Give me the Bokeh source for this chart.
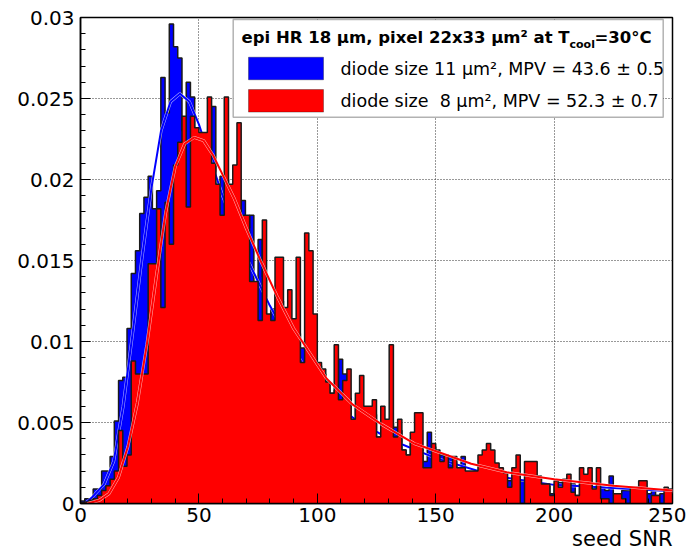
import numpy as np
from bokeh.plotting import figure
from bokeh.models import Range1d, FixedTicker, Label, BoxAnnotation, Title
from bokeh.embed import file_html
from bokeh.resources import INLINE

# ---------------- data ----------------
x_lo, x_hi = 0.0, 250.0
y_lo, y_hi = 0.0, 0.03
x_ticks = [0, 50, 100, 150, 200, 250]
x_tick_labels = ["0", "50", "100", "150", "200", "250"]
y_ticks = [0, 0.005, 0.01, 0.015, 0.02, 0.025, 0.03]
y_tick_labels = ["0", "0.005", "0.01", "0.015", "0.02", "0.025", "0.03"]
x_title = "seed SNR"
legend_title = ["epi HR 18 \u03bcm, pixel 22x33 \u03bcm\u00b2 at T", "cool", "=30\u00b0C"]
series_names = ["diode size 11 \u03bcm\u00b2, MPV = 43.6 \u00b1 0.5",
                "diode size \u00a08 \u03bcm\u00b2, MPV = 52.3 \u00b1 0.7"]
series_colors = ["#0000ff", "#ff0000"]

# bin contents, in units of 1e-3 (140 bins over 0..250)
blue_e3 = [0.15, 0.3, 0.3, 0.9, 0.9, 2.0, 2.0, 2.9, 5.1, 7.6,
           7.8, 10.8, 14.2, 15.6, 17.9, 18.9, 20.2, 18.2, 19.3, 26.3,
           24.1, 29.6, 28.2, 27.5, 23.0, 26.0, 25.1, 22.9, 22.5, 22.0,
           21.5, 24.5, 19.0, 20.2, 20.0, 19.0, 18.5, 18.0, 18.7, 17.0,
           17.8, 13.5, 16.3, 14.0, 11.5, 12.0, 13.0, 12.5, 11.5, 11.0,
           11.0, 10.5, 9.6, 9.5, 9.0, 9.0, 8.5, 8.0, 7.5, 6.8,
           7.0, 8.9, 8.0, 6.5, 5.2, 6.0, 6.0, 5.5, 5.5, 5.5,
           4.1, 5.0, 5.0, 5.0, 4.7, 4.5, 3.3, 3.0, 4.0, 4.0,
           3.5, 2.6, 4.4, 3.5, 3.0, 3.0, 2.8, 2.9, 2.5, 2.2,
           2.9, 1.4, 1.8, 2.0, 2.0, 2.0, 2.0, 2.0, 1.8, 1.6,
           1.5, 1.4, 1.5, 1.5, 1.4, 1.5, 1.5, 1.5, 1.6, 1.0,
           1.1, 0.6, 1.2, 1.3, 1.2, 1.2, 1.2, 0.5, 1.2, 1.2,
           1.2, 0.9, 1.0, 1.0, 0.8, 1.7, 0.6, 0.6, 0.8, 0.8,
           0.8, 0.8, 0.8, 0.8, 0.6, 0.8, 0.5, 0.6, 0.6, 0.6]
red_e3 = [0.05, 0.1, 0.2, 0.3, 0.5, 0.8, 1.1, 1.5, 2.0, 4.5,
          2.3, 3.0, 8.8, 8.0, 8.0, 8.0, 14.8, 14.8, 18.2, 12.1,
          18.6, 16.0, 20.9, 22.3, 23.9, 18.3, 23.9, 23.2, 22.9, 22.9,
          25.1, 21.0, 19.7, 17.8, 25.1, 19.7, 20.9, 23.5, 17.8, 17.8,
          13.7, 13.7, 11.3, 17.5, 11.7, 11.3, 15.2, 15.2, 12.1, 13.2,
          11.4, 15.2, 8.7, 16.7, 15.6, 11.7, 8.7, 8.3, 7.5, 6.8,
          9.8, 6.4, 7.6, 8.3, 5.2, 6.8, 7.9, 6.0, 6.0, 6.4,
          4.1, 6.0, 5.2, 9.8, 4.1, 5.2, 3.3, 3.0, 4.4, 5.6,
          5.6, 2.2, 2.2, 3.7, 3.3, 2.6, 3.0, 2.2, 2.9, 2.2,
          2.2, 2.0, 2.0, 2.0, 3.0, 3.3, 3.7, 3.3, 2.5, 2.2,
          1.9, 1.0, 2.2, 3.0, 0.0, 2.6, 2.6, 2.6, 1.7, 1.2,
          1.2, 0.5, 1.4, 1.0, 1.5, 1.8, 0.7, 0.5, 2.2, 1.8,
          2.2, 0.9, 2.2, 0.3, 0.3, 0.0, 0.6, 0.6, 0.3, 0.0,
          1.0, 1.0, 1.4, 1.4, 0.0, 0.5, 0.5, 0.0, 1.0, 0.9]

# fitted curves (x, y in units of 1e-3)
blue_fit_x = [2, 5, 10, 14, 18, 22, 26, 30, 34, 38, 42, 46, 50, 55, 60, 70, 80, 90,
              100, 115, 130, 150, 175, 200, 225, 250]
blue_fit_e3 = [0.0, 0.4, 1.2, 2.6, 6.0, 10.5, 15.2, 19.5, 23.0, 24.8, 25.3, 24.8, 23.4,
               21.2, 19.0, 15.2, 12.2, 9.6, 7.0, 5.3, 4.0, 2.8, 1.7, 1.15, 0.95, 0.75]
red_fit_x = [3, 8, 12, 16, 20, 24, 28, 32, 36, 40, 44, 48, 52, 56, 60, 65, 70, 76, 83,
             90, 104, 115, 127, 141, 165, 180, 200, 225, 250]
red_fit_e3 = [0.0, 0.2, 0.6, 1.6, 3.5, 6.2, 9.8, 14.0, 18.0, 20.8, 22.2, 22.6, 22.4, 21.5,
              20.3, 18.8, 17.0, 15.0, 12.8, 10.8, 7.7, 6.1, 4.9, 3.7, 2.45, 1.93, 1.5, 1.1, 0.8]

FONT = "DejaVu Sans"

# ---------------- figure ----------------
p = figure(width=686, height=553, x_range=Range1d(x_lo, x_hi), y_range=Range1d(y_lo, y_hi),
           output_backend="svg", toolbar_location=None,
           min_border_left=80, min_border_right=14, min_border_top=17, min_border_bottom=50)
p.background_fill_color = "white"
p.border_fill_color = "white"
p.outline_line_color = "black"
p.outline_line_width = 1.5

x_minor = [v for v in np.arange(x_lo, x_hi + 0.1, 10.0) if v not in x_ticks]
y_minor = [round(v, 4) for v in np.arange(0, y_hi + 1e-9, 0.001)]
p.xaxis.ticker = FixedTicker(ticks=x_ticks, minor_ticks=x_minor)
p.yaxis.ticker = FixedTicker(ticks=y_ticks, minor_ticks=y_minor)
p.xaxis.major_label_overrides = {t: s for t, s in zip(x_ticks, x_tick_labels)}
p.yaxis.major_label_overrides = {t: s for t, s in zip(y_ticks, y_tick_labels)}

for ax in (p.xaxis, p.yaxis):
    ax.axis_line_color = "black"
    ax.axis_line_width = 1.5
    ax.major_tick_in = 10
    ax.major_tick_out = 0
    ax.minor_tick_in = 5
    ax.minor_tick_out = 0
    ax.major_tick_line_color = "black"
    ax.minor_tick_line_color = "black"
    ax.major_label_text_font = FONT
    ax.major_label_text_font_size = "20px"
    ax.major_label_text_color = "black"
p.xaxis.major_label_standoff = 4
p.yaxis.major_label_standoff = 6

# x axis title, right aligned under the end of the axis
p.add_layout(Title(text=x_title, align="right", text_font=FONT, text_font_size="21px",
                   text_font_style="normal", text_color="black", standoff=0), "below")

for g in (p.xgrid, p.ygrid):
    g.grid_line_color = "#333333"
    g.grid_line_dash = "1 2"
    g.grid_line_width = 1

edges = np.linspace(x_lo, x_hi, len(blue_e3) + 1)


def draw_hist(vals_e3, color):
    vals = np.array(vals_e3) * 1e-3
    p.varea_step(x=edges, y1=0, y2=np.append(vals, vals[-1]), step_mode="after",
                 fill_color=color)
    ox = np.concatenate([[edges[0]], edges])
    oy = np.concatenate([[0.0], vals, [0.0]])
    p.step(x=ox, y=oy, mode="after", line_color="#1a1a1a", line_width=1.5)


def draw_fit(xs, ys_e3, color):
    ys = np.array(ys_e3) * 1e-3
    p.line(xs, ys, line_color="white", line_width=3, line_alpha=0.7)
    p.line(xs, ys, line_color=color, line_width=2)


draw_hist(blue_e3, series_colors[0])
draw_fit(blue_fit_x, blue_fit_e3, series_colors[0])
draw_hist(red_e3, series_colors[1])
draw_fit(red_fit_x, red_fit_e3, series_colors[1])

# ---------------- legend box ----------------
p.add_layout(BoxAnnotation(left=152.7, right=582.7, bottom=386.3, top=484,
                           left_units="screen", right_units="screen",
                           bottom_units="screen", top_units="screen",
                           fill_color="white", fill_alpha=1.0,
                           line_color="black", line_width=1.5))
p.add_layout(Label(x=161, y=466, x_units="screen", y_units="screen", text=legend_title[0],
                   text_baseline="middle", text_font=FONT, text_font_size="16.5px",
                   text_font_style="bold", text_color="black"))
p.add_layout(Label(x=489, y=459, x_units="screen", y_units="screen", text=legend_title[1],
                   text_baseline="middle", text_font=FONT, text_font_size="11px",
                   text_font_style="bold", text_color="black"))
p.add_layout(Label(x=514, y=466, x_units="screen", y_units="screen", text=legend_title[2],
                   text_baseline="middle", text_font=FONT, text_font_size="16.5px",
                   text_font_style="bold", text_color="black"))

sw_top = [446.3, 414.0]
for i in range(2):
    p.add_layout(BoxAnnotation(left=168, right=243, top=sw_top[i], bottom=sw_top[i] - 22.6,
                               left_units="screen", right_units="screen",
                               bottom_units="screen", top_units="screen",
                               fill_color=series_colors[i], fill_alpha=1.0,
                               line_color="black", line_width=1))
    p.add_layout(Label(x=260, y=sw_top[i] - 11.3, x_units="screen", y_units="screen",
                       text=series_names[i], text_baseline="middle", text_font=FONT,
                       text_font_size="17.5px", text_color="black"))

open("out.html", "w").write(file_html(p, INLINE))
